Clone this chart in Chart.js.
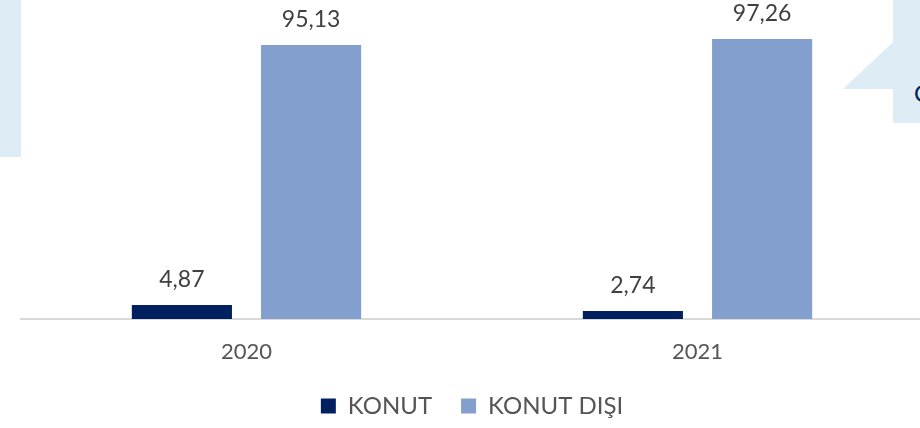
<!DOCTYPE html>
<html>
<head>
<meta charset="utf-8">
<script src="https://cdn.jsdelivr.net/npm/chart.js@4/dist/chart.umd.min.js"></script>
<style>
  html, body { margin: 0; padding: 0; width: 920px; height: 428px; overflow: hidden; background: #fff; }
  #deco { position: absolute; left: 0; top: 0; width: 920px; height: 428px; }
  #wrap { position: absolute; left: 0; top: 0; width: 924px; height: 428px; }
  #edge { position: absolute; left: 914px; top: 78px; font: 24px Lato, sans-serif; color: #002060; }
</style>
</head>
<body>
<svg id="deco" width="920" height="428" viewBox="0 0 920 428">
  <rect x="0" y="0" width="21" height="157" fill="#deedf5"/>
  <rect x="893" y="0" width="27" height="123" fill="#deedf5"/>
  <polygon points="843,89 893,42 893,89" fill="#deedf5"/>
</svg>
<div id="edge">O</div>
<div id="wrap"><canvas id="c"></canvas></div>
<script>
const categories = ['2020', '2021'];
const seriesNames = ['KONUT', 'KONUT DIŞI'];
const konut = [4.87, 2.74];
const konutDisi = [95.13, 97.26];

const fmt = v => v.toFixed(2).replace('.', ',');

const labelPlugin = {
  id: 'barLabels',
  afterDatasetsDraw(chart) {
    const ctx = chart.ctx;
    ctx.save();
    ctx.font = '23px Lato, sans-serif';
    ctx.fillStyle = '#404040';
    ctx.textAlign = 'center';
    ctx.textBaseline = 'alphabetic';
    chart.data.datasets.forEach((ds, i) => {
      chart.getDatasetMeta(i).data.forEach((bar, j) => {
        ctx.fillText(fmt(ds.data[j]), bar.x, bar.y - 18);
      });
    });
    ctx.restore();
  }
};

new Chart(document.getElementById('c'), {
  type: 'bar',
  data: {
    labels: categories,
    datasets: [
      { label: seriesNames[0], data: konut, backgroundColor: '#002060' },
      { label: seriesNames[1], data: konutDisi, backgroundColor: '#829fcd' }
    ]
  },
  options: {
    responsive: true,
    maintainAspectRatio: false,
    animation: false,
    datasets: { bar: { categoryPercentage: 0.573, barPercentage: 0.775 } },
    layout: { padding: { top: 31, left: 21, right: 1, bottom: 0 } },
    scales: {
      x: {
        grid: { display: false, drawTicks: false },
        border: { display: true, color: '#d9d9d9', width: 2 },
        ticks: { font: { family: 'Lato', size: 22 }, color: '#555555', padding: 20 },
        afterFit: s => { s.height = 46; }
      },
      y: { display: false, min: 0, max: 100 }
    },
    plugins: {
      legend: {
        position: 'bottom',
        labels: {
          boxWidth: 15, boxHeight: 15, padding: 29,
          font: { family: 'Lato', size: 24 }, color: '#555555'
        }
      },
      tooltip: { enabled: false }
    }
  },
  plugins: [labelPlugin]
});
</script>
</body>
</html>
